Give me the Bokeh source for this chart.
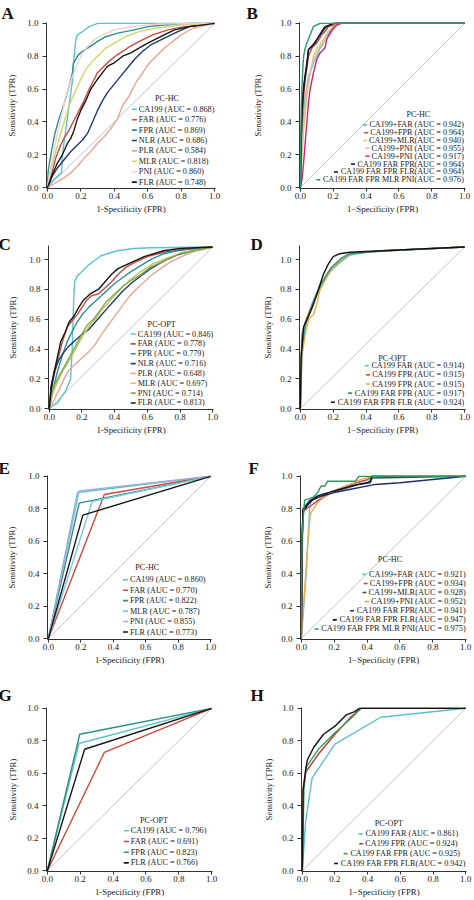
from bokeh.plotting import figure
from bokeh.layouts import row, column
from bokeh.models import Range1d, FixedTicker, PrintfTickFormatter, Label, LabelSet, ColumnDataSource, Title
from bokeh.core.properties import value
from bokeh.embed import file_html
from bokeh.resources import INLINE

FONT = "Liberation Serif"
TICKS = [0.0, 0.2, 0.4, 0.6, 0.8, 1.0]
X_LABEL = "1-Specificity (FPR)"
X_LABEL_M = "1\u2212Specificity (FPR)"
Y_LABEL = "Sensitivity (TPR)"
DIAG_X = [0.0, 1.0]
DIAG_Y = [0.0, 1.0]
DIAG_Y_OPT = [0.0, 1.085]

A_title = "PC-HC"
A_labels = ["CA199 (AUC = 0.868)", "FAR (AUC = 0.776)", "FPR (AUC = 0.869)", "NLR (AUC = 0.686)",
            "PLR (AUC = 0.584)", "MLR (AUC = 0.818)", "PNI (AUC = 0.860)", "FLR (AUC = 0.748)"]
A_colors = ["#5cc3c9", "#c94a42", "#2b8f97", "#1f3a6e", "#e7a596", "#cdd86c", "#f3cfcf", "#161616"]
A_fpr = [
    [0, 0.02, 0.05, 0.085, 0.09, 0.11, 0.13, 0.15, 0.16, 0.17, 0.18, 0.21, 0.25, 0.3, 1.0],
    [0, 0.02, 0.05, 0.08, 0.1, 0.13, 0.16, 0.19, 0.22, 0.25, 0.28, 0.3, 0.33, 0.37, 0.42, 0.48, 0.55, 0.63, 0.72, 0.82, 1.0],
    [0, 0.005, 0.016, 0.03, 0.045, 0.07, 0.1, 0.134, 0.15, 0.155, 0.183, 0.21, 0.25, 0.3, 0.34, 0.42, 0.52, 0.6, 0.7, 0.85, 1.0],
    [0, 0.03, 0.06, 0.1, 0.14, 0.18, 0.21, 0.24, 0.27, 0.3, 0.33, 0.36, 0.4, 0.44, 0.48, 0.52, 0.57, 0.62, 0.7, 0.78, 0.85, 1.0],
    [0, 0.05, 0.1, 0.14, 0.18, 0.22, 0.26, 0.3, 0.34, 0.38, 0.42, 0.45, 0.49, 0.53, 0.57, 0.61, 0.65, 0.7, 0.75, 0.8, 0.87, 1.0],
    [0, 0.02, 0.05, 0.08, 0.1, 0.13, 0.16, 0.2, 0.23, 0.27, 0.3, 0.35, 0.4, 0.47, 0.55, 0.65, 0.8, 1.0],
    [0, 0.02, 0.05, 0.08, 0.11, 0.14, 0.17, 0.2, 0.24, 0.28, 0.33, 0.4, 0.5, 0.65, 1.0],
    [0, 0.03, 0.06, 0.09, 0.12, 0.14, 0.16, 0.18, 0.2, 0.23, 0.26, 0.3, 0.33, 0.36, 0.4, 0.45, 0.5, 0.55, 0.6, 0.68, 0.76, 0.85, 1.0],
]
A_tpr = [
    [0, 0.03, 0.06, 0.09, 0.2, 0.35, 0.5, 0.65, 0.8, 0.9, 0.93, 0.95, 0.98, 1.0, 1.0],
    [0, 0.06, 0.18, 0.26, 0.3, 0.35, 0.41, 0.47, 0.53, 0.6, 0.66, 0.7, 0.73, 0.77, 0.81, 0.85, 0.89, 0.93, 0.96, 0.98, 1.0],
    [0, 0.1, 0.17, 0.25, 0.33, 0.42, 0.51, 0.63, 0.7, 0.755, 0.805, 0.83, 0.855, 0.89, 0.915, 0.94, 0.96, 0.98, 0.99, 1.0, 1.0],
    [0, 0.07, 0.12, 0.17, 0.22, 0.26, 0.29, 0.33, 0.4, 0.47, 0.53, 0.58, 0.63, 0.68, 0.73, 0.78, 0.83, 0.87, 0.91, 0.95, 0.98, 1.0],
    [0, 0.03, 0.06, 0.09, 0.13, 0.18, 0.22, 0.27, 0.31, 0.36, 0.42, 0.5, 0.56, 0.64, 0.7, 0.76, 0.8, 0.85, 0.89, 0.93, 0.97, 1.0],
    [0, 0.1, 0.22, 0.33, 0.4, 0.5, 0.57, 0.66, 0.72, 0.77, 0.8, 0.85, 0.88, 0.92, 0.95, 0.97, 0.99, 1.0],
    [0, 0.12, 0.28, 0.42, 0.55, 0.65, 0.73, 0.8, 0.86, 0.9, 0.93, 0.96, 0.98, 0.995, 1.0],
    [0, 0.08, 0.15, 0.2, 0.27, 0.3, 0.35, 0.42, 0.47, 0.53, 0.6, 0.66, 0.7, 0.74, 0.76, 0.8, 0.82, 0.85, 0.88, 0.92, 0.96, 0.98, 1.0],
]

B_title = "PC-HC"
B_labels = ["CA199+FAR (AUC = 0.942)", "CA199+FPR (AUC = 0.964)", "CA199+MLR(AUC = 0.940)",
            "CA199+PNI (AUC = 0.955)", "CA199+PNI (AUC = 0.917)", "CA199 FAR FPR(AUC = 0.964)",
            "CA199 FAR FPR FLR(AUC = 0.964)", "CA199 FAR FPR MLR PNI(AUC = 0.976)"]
B_colors = ["#5cc0c8", "#d04848", "#cad46c", "#f0b6a6", "#d1207a", "#1f2c6c", "#111111", "#2a9a70"]
B_fpr = [
    [0, 0.01, 0.02, 0.03, 0.05, 0.07, 0.08, 0.1, 0.12, 0.13, 0.15, 0.18, 0.2, 0.22, 1.0],
    [0, 0.01, 0.02, 0.03, 0.05, 0.07, 0.1, 0.13, 0.15, 0.17, 0.2, 0.22, 1.0],
    [0, 0.01, 0.02, 0.04, 0.06, 0.08, 0.1, 0.12, 0.14, 0.17, 0.2, 0.23, 1.0],
    [0, 0.01, 0.02, 0.04, 0.07, 0.1, 0.12, 0.15, 0.18, 0.2, 0.24, 1.0],
    [0, 0.01, 0.02, 0.03, 0.04, 0.05, 0.06, 0.08, 0.1, 0.12, 0.14, 0.15, 0.16, 0.18, 0.2, 0.22, 0.25, 1.0],
    [0, 0.005, 0.01, 0.02, 0.04, 0.05, 0.07, 0.1, 0.12, 0.15, 0.18, 0.2, 1.0],
    [0, 0.005, 0.01, 0.02, 0.03, 0.04, 0.05, 0.07, 0.09, 0.1, 0.13, 0.15, 0.18, 0.2, 1.0],
    [0, 0.003, 0.006, 0.01, 0.015, 0.02, 0.03, 0.04, 0.06, 0.08, 0.1, 0.12, 1.0],
]
B_tpr = [
    [0, 0.3, 0.45, 0.55, 0.68, 0.73, 0.76, 0.8, 0.85, 0.86, 0.9, 0.95, 0.98, 1.0, 1.0],
    [0, 0.4, 0.55, 0.66, 0.8, 0.85, 0.88, 0.93, 0.95, 0.98, 0.99, 1.0, 1.0],
    [0, 0.2, 0.35, 0.55, 0.7, 0.8, 0.85, 0.87, 0.9, 0.95, 0.98, 1.0, 1.0],
    [0, 0.25, 0.4, 0.6, 0.75, 0.82, 0.86, 0.9, 0.93, 0.96, 1.0, 1.0],
    [0, 0.05, 0.15, 0.28, 0.4, 0.52, 0.6, 0.7, 0.78, 0.82, 0.84, 0.85, 0.9, 0.94, 0.97, 0.99, 1.0, 1.0],
    [0, 0.3, 0.5, 0.62, 0.76, 0.84, 0.86, 0.9, 0.93, 0.97, 0.99, 1.0, 1.0],
    [0, 0.25, 0.45, 0.6, 0.68, 0.75, 0.84, 0.86, 0.88, 0.9, 0.95, 0.98, 0.99, 1.0, 1.0],
    [0, 0.3, 0.5, 0.62, 0.72, 0.8, 0.85, 0.88, 0.93, 0.98, 0.99, 1.0, 1.0],
]

C_title = "PC-OPT"
C_labels = ["CA199 (AUC = 0.846)", "FAR (AUC = 0.778)", "FPR (AUC = 0.779)", "NLR (AUC = 0.716)",
            "PLR (AUC = 0.648)", "MLR (AUC = 0.697)", "PNI (AUC = 0.714)", "FLR (AUC = 0.813)"]
C_colors = ["#5cc3c9", "#cc4a44", "#2b8f97", "#1f3a6e", "#e7a596", "#b9c760", "#86a552", "#161616"]
C_fpr = [
    [0, 0.02, 0.05, 0.08, 0.1, 0.13, 0.14, 0.145, 0.15, 0.155, 0.17, 0.2, 0.235, 0.316, 0.416, 0.517, 0.62, 1.0],
    [0, 0.02, 0.05, 0.08, 0.11, 0.14, 0.17, 0.2, 0.23, 0.26, 0.3, 0.33, 0.38, 0.42, 0.47, 0.52, 0.6, 0.7, 0.85, 1.0],
    [0, 0.02, 0.05, 0.08, 0.11, 0.14, 0.17, 0.2, 0.24, 0.28, 0.32, 0.36, 0.4, 0.45, 0.5, 0.56, 0.62, 0.7, 0.8, 1.0],
    [0, 0.01, 0.03, 0.06, 0.09, 0.12, 0.16, 0.2, 0.24, 0.28, 0.32, 0.36, 0.4, 0.45, 0.5, 0.56, 0.62, 0.7, 0.78, 0.88, 1.0],
    [0, 0.03, 0.06, 0.09, 0.12, 0.16, 0.2, 0.24, 0.28, 0.32, 0.36, 0.4, 0.44, 0.48, 0.52, 0.57, 0.62, 0.68, 0.75, 0.83, 0.9, 1.0],
    [0, 0.02, 0.05, 0.08, 0.11, 0.14, 0.17, 0.2, 0.24, 0.28, 0.32, 0.36, 0.4, 0.45, 0.5, 0.56, 0.63, 0.72, 0.82, 1.0],
    [0, 0.02, 0.05, 0.08, 0.11, 0.14, 0.17, 0.2, 0.23, 0.27, 0.31, 0.35, 0.4, 0.45, 0.5, 0.56, 0.62, 0.7, 0.8, 1.0],
    [0, 0.01, 0.03, 0.05, 0.07, 0.1, 0.12, 0.15, 0.18, 0.21, 0.25, 0.3, 0.34, 0.38, 0.42, 0.5, 0.58, 0.7, 0.8, 1.0],
]
C_tpr = [
    [0, 0.02, 0.04, 0.09, 0.12, 0.2, 0.4, 0.6, 0.75, 0.85, 0.89, 0.92, 0.96, 1.026, 1.06, 1.075, 1.08, 1.085],
    [0, 0.18, 0.32, 0.45, 0.55, 0.59, 0.63, 0.68, 0.73, 0.76, 0.77, 0.8, 0.85, 0.9, 0.95, 0.98, 1.02, 1.05, 1.07, 1.085],
    [0, 0.12, 0.25, 0.36, 0.45, 0.52, 0.58, 0.63, 0.68, 0.72, 0.76, 0.8, 0.84, 0.88, 0.92, 0.96, 1.0, 1.04, 1.065, 1.085],
    [0, 0.15, 0.25, 0.33, 0.38, 0.42, 0.46, 0.5, 0.53, 0.58, 0.63, 0.68, 0.73, 0.79, 0.84, 0.89, 0.94, 0.99, 1.03, 1.06, 1.085],
    [0, 0.06, 0.13, 0.2, 0.26, 0.3, 0.34, 0.38, 0.43, 0.5, 0.56, 0.62, 0.68, 0.74, 0.79, 0.84, 0.89, 0.94, 0.99, 1.03, 1.06, 1.085],
    [0, 0.1, 0.18, 0.25, 0.3, 0.36, 0.42, 0.48, 0.55, 0.6, 0.66, 0.71, 0.76, 0.82, 0.87, 0.92, 0.97, 1.01, 1.05, 1.085],
    [0, 0.13, 0.2, 0.26, 0.32, 0.38, 0.44, 0.5, 0.56, 0.6, 0.66, 0.72, 0.77, 0.82, 0.86, 0.9, 0.95, 0.99, 1.04, 1.085],
    [0, 0.12, 0.25, 0.35, 0.45, 0.52, 0.58, 0.62, 0.68, 0.73, 0.77, 0.8, 0.85, 0.9, 0.94, 0.98, 1.02, 1.06, 1.075, 1.085],
]

D_title = "PC-OPT"
D_labels = ["CA199 FAR (AUC = 0.914)", "CA199 FPR (AUC = 0.915)", "CA199 FPR (AUC = 0.915)",
            "CA199 FAR FPR (AUC = 0.917)", "CA199 FAR FPR FLR (AUC = 0.924)"]
D_colors = ["#5cc0c8", "#d0603a", "#e8b040", "#2a9a8a", "#111111"]
D_fpr = [
    [0, 0.005, 0.01, 0.03, 0.05, 0.07, 0.1, 0.13, 0.15, 0.18, 0.22, 0.25, 0.3, 0.4, 0.55, 1.0],
    [0, 0.005, 0.01, 0.03, 0.05, 0.08, 0.1, 0.13, 0.16, 0.19, 0.21, 0.24, 0.3, 0.45, 0.7, 1.0],
    [0, 0.01, 0.03, 0.05, 0.08, 0.1, 0.12, 0.16, 0.2, 0.25, 0.3, 0.5, 1.0],
    [0, 0.01, 0.03, 0.06, 0.09, 0.12, 0.16, 0.2, 0.25, 0.3, 0.5, 1.0],
    [0, 0.005, 0.02, 0.05, 0.08, 0.11, 0.14, 0.17, 0.2, 0.24, 0.3, 0.5, 1.0],
]
D_tpr = [
    [0, 0.3, 0.45, 0.55, 0.63, 0.7, 0.78, 0.85, 0.87, 0.92, 0.96, 0.99, 1.03, 1.05, 1.06, 1.085],
    [0, 0.32, 0.5, 0.58, 0.64, 0.72, 0.76, 0.84, 0.9, 0.95, 0.96, 0.99, 1.04, 1.055, 1.07, 1.085],
    [0, 0.35, 0.5, 0.6, 0.63, 0.7, 0.8, 0.88, 0.95, 1.0, 1.04, 1.06, 1.085],
    [0, 0.4, 0.56, 0.66, 0.74, 0.82, 0.9, 0.96, 1.01, 1.04, 1.06, 1.085],
    [0, 0.35, 0.55, 0.62, 0.7, 0.8, 0.9, 0.97, 1.02, 1.04, 1.05, 1.06, 1.085],
]

E_title = "PC-HC"
E_labels = ["CA199 (AUC = 0.860)", "FAR (AUC = 0.770)", "FPR (AUC = 0.822)",
            "MLR (AUC = 0.787)", "PNI (AUC = 0.855)", "FLR (AUC = 0.773)"]
E_colors = ["#5cc3c9", "#d0483f", "#2a8f80", "#7cc8e0", "#a9a9d9", "#161616"]
E_fpr = [[0, 0.18, 1.0], [0, 0.345, 1.0], [0, 0.19, 1.0], [0, 0.27, 1.0], [0, 0.19, 1.0], [0, 0.213, 1.0]]
E_tpr = [[0, 0.90, 1.0], [0, 0.888, 1.0], [0, 0.835, 1.0], [0, 0.845, 1.0], [0, 0.91, 1.0], [0, 0.761, 1.0]]

F_title = "PC-HC"
F_labels = ["CA199+FAR (AUC = 0.921)", "CA199+FPR (AUC = 0.934)", "CA199+MLR(AUC = 0.928)",
            "CA199+PNI (AUC = 0.952)", "CA199 FAR FPR(AUC = 0.941)", "CA199 FAR FPR FLR(AUC = 0.947)",
            "CA199 FAR FPR MLR PNI(AUC = 0.975)"]
F_colors = ["#6ec6d8", "#d23c3c", "#34495e", "#f0a848", "#1f2f6b", "#111111", "#2e9a5a"]
F_fpr = [
    [0, 0.03, 0.045, 0.05, 0.06, 0.1, 0.2, 0.3, 0.42, 0.43, 1.0],
    [0, 0.005, 0.01, 0.03, 0.06, 0.1, 0.15, 0.2, 0.3, 0.4, 0.43, 1.0],
    [0, 0.005, 0.01, 0.04, 0.08, 0.15, 0.25, 0.35, 0.42, 0.43, 1.0],
    [0, 0.02, 0.04, 0.055, 0.1, 0.15, 0.2, 0.3, 0.36, 0.43, 1.0],
    [0, 0.005, 0.01, 0.05, 0.1, 0.2, 0.3, 0.45, 0.6, 0.8, 1.0],
    [0, 0.005, 0.01, 0.03, 0.06, 0.1, 0.2, 0.3, 0.4, 0.42, 0.43, 1.0],
    [0, 0.002, 0.005, 0.02, 0.07, 0.1, 0.12, 0.144, 0.16, 0.33, 0.35, 1.0],
]
F_tpr = [
    [0, 0.4, 0.7, 0.8, 0.86, 0.88, 0.91, 0.95, 0.98, 1.0, 1.0],
    [0, 0.5, 0.78, 0.8, 0.82, 0.85, 0.88, 0.91, 0.95, 0.98, 1.0, 1.0],
    [0, 0.6, 0.79, 0.83, 0.86, 0.89, 0.92, 0.95, 0.96, 0.99, 1.0],
    [0, 0.3, 0.6, 0.77, 0.84, 0.88, 0.91, 0.95, 0.98, 1.0, 1.0],
    [0, 0.6, 0.8, 0.85, 0.87, 0.9, 0.92, 0.95, 0.96, 0.98, 1.0],
    [0, 0.6, 0.79, 0.81, 0.85, 0.88, 0.91, 0.94, 0.96, 0.97, 1.0, 1.0],
    [0, 0.4, 0.65, 0.853, 0.87, 0.9, 0.94, 0.94, 0.97, 0.97, 1.0, 1.0],
]

G_title = "PC-OPT"
G_labels = ["CA199 (AUC = 0.796)", "FAR (AUC = 0.691)", "FPR (AUC = 0.823)", "FLR (AUC = 0.766)"]
G_colors = ["#5cc3c9", "#d0483f", "#2a8f80", "#161616"]
G_fpr = [[0, 0.193, 1.0], [0, 0.347, 1.0], [0, 0.197, 1.0], [0, 0.227, 1.0]]
G_tpr = [[0, 0.783, 1.0], [0, 0.729, 1.0], [0, 0.84, 1.0], [0, 0.748, 1.0]]

H_title = "PC-OPT"
H_labels = ["CA199 FAR (AUC = 0.861)", "CA199 FPR (AUC = 0.924)", "CA199 FAR FPR (AUC = 0.925)",
            "CA199 FAR FPR FLR(AUC = 0.942)"]
H_colors = ["#5cc0c8", "#c0392b", "#3a9a60", "#111111"]
H_fpr = [
    [0, 0.02, 0.06, 0.2, 0.48, 1.0],
    [0, 0.005, 0.02, 0.03, 0.1, 0.2, 0.3, 0.36, 1.0],
    [0, 0.01, 0.025, 0.1, 0.2, 0.3, 0.36, 1.0],
    [0, 0.005, 0.02, 0.03, 0.07, 0.13, 0.2, 0.27, 0.32, 0.35, 1.0],
]
H_tpr = [
    [0, 0.3, 0.57, 0.78, 0.945, 1.0],
    [0, 0.5, 0.6, 0.62, 0.72, 0.84, 0.95, 1.0, 1.0],
    [0, 0.5, 0.64, 0.75, 0.85, 0.94, 1.0, 1.0],
    [0, 0.5, 0.62, 0.68, 0.76, 0.84, 0.89, 0.96, 0.98, 1.0, 1.0],
]

EM = {' ': 0.25, '.': 0.25, '(': 0.333, ')': 0.333, '=': 0.564, '+': 0.564, '-': 0.333,
      'A': 0.722, 'C': 0.667, 'F': 0.556, 'R': 0.667, 'P': 0.556, 'M': 0.889, 'L': 0.611,
      'N': 0.722, 'I': 0.333, 'U': 0.722, 'O': 0.722, 'T': 0.611, 'H': 0.722}


def text_px(s, size):
    return sum(EM.get(c, 0.5) for c in s) * size


XMIN, XMAX, YMIN = -0.005, 1.005, -0.005


def make_panel(letter, W, H, left, top, fw, fh, ymax, xlab, yl_sd, l_off, l_sd,
               fprs, tprs, colors, diag_y):
    p = figure(width=W, height=H, x_range=Range1d(XMIN, XMAX), y_range=Range1d(YMIN, ymax),
               output_backend="svg", toolbar_location=None, tools="",
               min_border_left=left, min_border_right=max(W - left - fw, 0),
               min_border_top=top, min_border_bottom=H - top - fh)
    p.grid.visible = False
    p.outline_line_color = None
    p.background_fill_color = "white"
    p.border_fill_color = "white"
    p.xaxis.axis_label = xlab
    p.yaxis.axis_label = Y_LABEL
    for ax in (p.xaxis[0], p.yaxis[0]):
        ax.ticker = FixedTicker(ticks=TICKS)
        ax.formatter = PrintfTickFormatter(format="%.1f")
        ax.major_label_text_font = FONT
        ax.major_label_text_font_size = "9px"
        ax.major_label_text_color = "#222222"
        ax.axis_label_text_font = FONT
        ax.axis_label_text_font_size = "8.8px"
        ax.axis_label_text_font_style = "normal"
        ax.axis_label_text_color = "#222222"
        ax.major_tick_in = 0
        ax.minor_tick_line_color = None
        ax.axis_line_color = "#333333"
        ax.major_tick_line_color = "#333333"
    p.xaxis.major_tick_out = 3
    p.xaxis.major_label_standoff = 1
    p.xaxis.axis_label_standoff = 2
    p.yaxis.major_tick_out = 4
    p.yaxis.major_label_standoff = 4
    p.yaxis.axis_label_standoff = yl_sd

    p.line(DIAG_X, diag_y, line_color="#c4c4c4", line_width=1)
    for xs, ys, c in zip(fprs, tprs, colors):
        p.line(xs, ys, line_color=c, line_width=1.4)

    p.add_layout(Title(text=letter, align="left", offset=l_off, standoff=l_sd,
                       text_font=FONT, text_font_size="17px", text_font_style="bold",
                       text_color="#111111"), "above")
    return p


def add_legend(p, fw, title, tx, ty, labels, colors, y0, dy, align, anchor, size=8.2,
               mlen_px=5, gap_px=2):
    per_px = (XMAX - XMIN) / fw
    n = len(labels)
    ys = [y0 - i * dy for i in range(n)]
    anchors = anchor if isinstance(anchor, list) else [anchor] * n
    if align == "left":
        m1 = [a - gap_px * per_px for a in anchors]
    else:
        m1 = [a - text_px(l, size) * per_px - gap_px * per_px for a, l in zip(anchors, labels)]
    m0 = [m - mlen_px * per_px for m in m1]
    p.segment(x0=m0, y0=ys, x1=m1, y1=ys, line_color=colors, line_width=1.6)
    src = ColumnDataSource(dict(x=anchors, y=ys, t=labels))
    p.add_layout(LabelSet(x="x", y="y", text="t", source=src, text_font=value(FONT),
                          text_font_size=value(f"{size}px"), text_align=align,
                          text_baseline="middle", text_color="#222222"))
    p.add_layout(Label(x=tx, y=ty, text=title, text_font=FONT, text_font_size=f"{size}px",
                       text_align="center", text_baseline="middle", text_color="#222222"))


pA = make_panel("A", 237, 225, 46, 20, 169, 168, 1.005, X_LABEL, 7, -45, 0, A_fpr, A_tpr, A_colors, DIAG_Y)
add_legend(pA, 169, A_title, 0.715, 0.543, A_labels, A_colors, 0.477, 0.0633, "left", 0.547)

pB = make_panel("B", 236, 225, 62, 22, 166, 166, 1.005, X_LABEL_M, 14, -53, 0, B_fpr, B_tpr, B_colors, DIAG_Y)
add_legend(pB, 166, B_title, 0.718, 0.443, B_labels, B_colors, 0.382, 0.0477, "right", 0.995, size=8.1,
           mlen_px=4)

pC = make_panel("C", 237, 225, 48, 20, 165, 166, 1.095, X_LABEL, 8, -50, -16, C_fpr, C_tpr, C_colors, DIAG_Y_OPT)
add_legend(pC, 165, C_title, 0.688, 0.567, C_labels, C_colors, 0.501, 0.066, "left", 0.541)

pD = make_panel("D", 236, 225, 62, 19, 166, 165, 1.095, X_LABEL_M, 4, -49, -16, D_fpr, D_tpr, D_colors, DIAG_Y_OPT)
add_legend(pD, 166, D_title, 0.56, 0.336, D_labels, D_colors, 0.288, 0.061, "right", 0.998, mlen_px=4)

pE = make_panel("E", 237, 225, 47, 25, 164, 164, 1.005, X_LABEL, 8, -49, -4, E_fpr, E_tpr, E_colors, DIAG_Y)
add_legend(pE, 164, E_title, 0.609, 0.441, E_labels, E_colors, 0.363, 0.0644, "left", 0.503)

pF = make_panel("F", 236, 225, 63, 25, 166, 166, 1.005, X_LABEL_M, 5, -52, -4, F_fpr, F_tpr, F_colors, DIAG_Y)
add_legend(pF, 166, F_title, 0.54, 0.49, F_labels, F_colors, 0.396, 0.056, "right", 1.0, size=8.3,
           mlen_px=4)

pG = make_panel("G", 237, 224, 46, 32, 166, 164, 1.005, X_LABEL, 6, -48, 6, G_fpr, G_tpr, G_colors, DIAG_Y)
add_legend(pG, 166, G_title, 0.649, 0.309, G_labels, G_colors, 0.246, 0.066, "left", 0.508)

pH = make_panel("H", 236, 224, 64, 32, 165, 164, 1.005, X_LABEL_M, 5, -51, 6, H_fpr, H_tpr, H_colors, DIAG_Y)
add_legend(pH, 165, H_title, 0.53, 0.288, H_labels, H_colors, 0.227, 0.061, "right",
           [0.955, 0.95, 0.965, 0.998], mlen_px=4)

layout = column(row(pA, pB), row(pC, pD), row(pE, pF), row(pG, pH))

open("out.html", "w").write(file_html(layout, INLINE))
